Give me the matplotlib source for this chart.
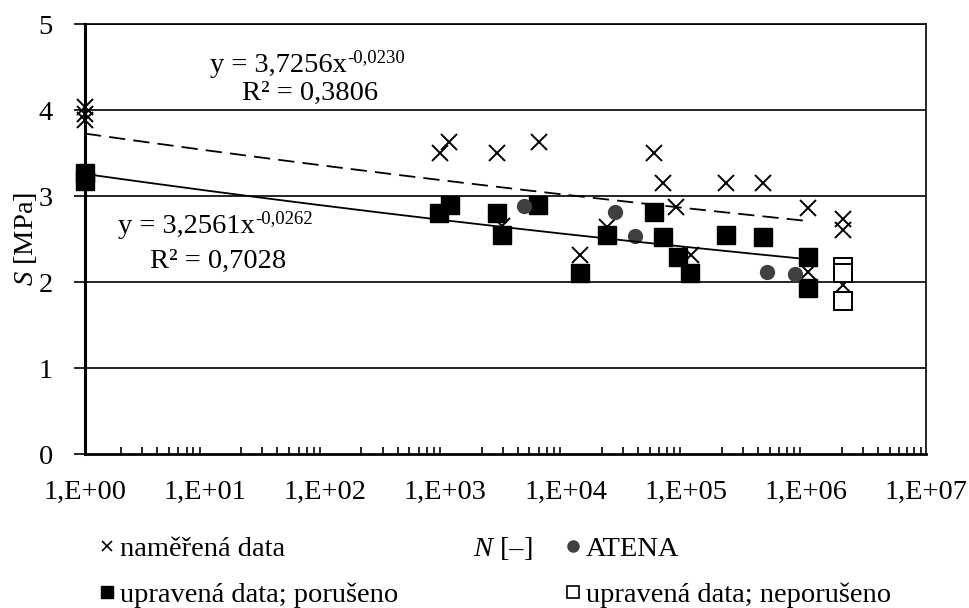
import matplotlib
matplotlib.use('Agg')
import matplotlib.pyplot as plt
from matplotlib.lines import Line2D
from matplotlib.ticker import FixedLocator, FuncFormatter, LogLocator, NullFormatter
import numpy as np

plt.rcParams['font.family'] = ['Liberation Serif', 'DejaVu Serif']
plt.rcParams['mathtext.fontset'] = 'custom'
plt.rcParams['mathtext.rm'] = 'Liberation Serif'
plt.rcParams['mathtext.it'] = 'Liberation Serif:italic'

# naměřená data
mer_N = [1, 1, 1, 908, 1080, 2710, 2985, 5960, 13090, 21960, 54100, 64300,
         82500, 110000, 215000, 438000, 1.04e6, 1.04e6, 2.03e6, 2.03e6, 2.03e6]
mer_S = [4.03, 3.95, 3.88, 3.50, 3.63, 3.50, 2.65, 3.63, 2.31, 2.64, 3.50, 3.15,
         2.87, 2.31, 3.15, 3.15, 2.86, 2.12, 2.73, 2.60, 1.97]

# upravená data; porušeno
por_N = [1, 1, 891, 1100, 2710, 2985, 5840, 13090, 21960, 54100, 64300,
         85800, 108000, 215000, 438000, 1.04e6, 1.04e6]
por_S = [3.27, 3.18, 2.80, 2.90, 2.80, 2.55, 2.90, 2.10, 2.55, 2.81, 2.52,
         2.29, 2.10, 2.55, 2.52, 2.29, 1.93]

# ATENA
atena_N = [4550, 25600, 37600, 473000, 810000]
atena_S = [2.88, 2.81, 2.54, 2.12, 2.09]

# upravená data; neporušeno
nepor_N = [2.03e6, 2.03e6, 2.03e6]
nepor_S = [2.18, 2.11, 1.78]

# trendlines (power) as shown in the chart
fit1_a, fit1_b = 3.7256, -0.0230
fit2_a, fit2_b = 3.2561, -0.0262

W, H = 970, 608
fig = plt.figure(figsize=(W / 100, H / 100), dpi=100)
ax = fig.add_axes([85 / W, (H - 454) / H, (926 - 85) / W, (454 - 24) / H])

fs = 20.5

ax.set_xscale('log')
ax.set_xlim(1, 1e7)
ax.set_ylim(0, 5)

for yv in [1, 2, 3, 4, 5]:
    ax.axhline(yv, color='black', lw=1.2, zorder=1)

ax.plot(mer_N, mer_S, 'x', color='black', ms=12, mew=1.4, zorder=3, clip_on=False)
ax.plot(por_N, por_S, 's', color='black', ms=12.5, zorder=4, clip_on=False)
ax.plot(atena_N, atena_S, 'o', color='#404040', ms=11, mew=0, zorder=4)
ax.plot(nepor_N, nepor_S, 's', mfc='white', mec='black', mew=1.4, ms=12.5, zorder=4)

xf = np.logspace(0, 6, 200)
ax.plot(xf, fit1_a * xf ** fit1_b, color='black', lw=1.3, ls=(0, (9, 4.5)), zorder=5)
ax.plot(xf, fit2_a * xf ** fit2_b, color='black', lw=1.3, zorder=5)

ax.spines['left'].set_linewidth(2.2)
ax.spines['bottom'].set_linewidth(2.0)
ax.spines['right'].set_linewidth(1.2)
ax.spines['top'].set_linewidth(1.2)
ax.spines['left'].set_zorder(6)

ax.xaxis.set_major_locator(FixedLocator([10.0 ** k for k in range(8)]))
ax.xaxis.set_minor_locator(LogLocator(base=10, subs=np.arange(2, 10)))
ax.xaxis.set_minor_formatter(NullFormatter())
ax.xaxis.set_major_formatter(FuncFormatter(lambda v, p: '1,E+%02d' % int(round(np.log10(v)))))
ax.tick_params(axis='x', which='both', direction='in', length=5, width=1.2, labelsize=fs, pad=19)
ax.tick_params(axis='x', which='major', length=0)
ax.set_yticks([0, 1, 2, 3, 4, 5])
ax.tick_params(axis='y', direction='out', length=8, width=1.2, labelsize=fs, pad=15)

ax.set_ylabel(r'$\mathit{S}$ [MPa]', fontsize=fs)
ax.yaxis.set_label_coords((39 - 85) / (926 - 85), 0.5)

fig.text(503 / W, 1 - 548 / H, r'$\mathit{N}$ [–]', fontsize=fs, ha='center', va='center')

def pt(x, y):
    return x / W, 1 - y / H

def equation(x, y, base, sup):
    t = fig.text(*pt(x, y), base, fontsize=fs, va='baseline')
    ax.annotate(sup, xy=(1.0, 0.62), xycoords=t, fontsize=13.5, va='baseline', ha='left')

equation(210, 72, 'y = 3,7256x', '-0,0230')
fig.text(*pt(242, 100), 'R² = 0,3806', fontsize=fs, va='baseline')
equation(118, 233, 'y = 3,2561x', '-0,0262')
fig.text(*pt(150, 268), 'R² = 0,7028', fontsize=fs, va='baseline')

handles = [
    Line2D([], [], ls='none', marker='x', color='black', ms=7, mew=1.2),
    Line2D([], [], ls='none', marker='s', color='black', ms=9),
    Line2D([], [], ls='none', marker='o', color='#404040', ms=9, mew=0),
    Line2D([], [], ls='none', marker='s', mfc='white', mec='black', ms=9, mew=1.2),
]
labels = ['naměřená data', 'upravená data; porušeno', 'ATENA', 'upravená data; neporušeno']
fig.legend(handles, labels, ncol=2, loc='upper left', bbox_to_anchor=pt(100, 536),
           frameon=False, fontsize=fs, handlelength=0.5, handletextpad=0.2,
           columnspacing=5.9, labelspacing=0.72, borderpad=0, borderaxespad=0)

fig.savefig('out.png', dpi=100)
